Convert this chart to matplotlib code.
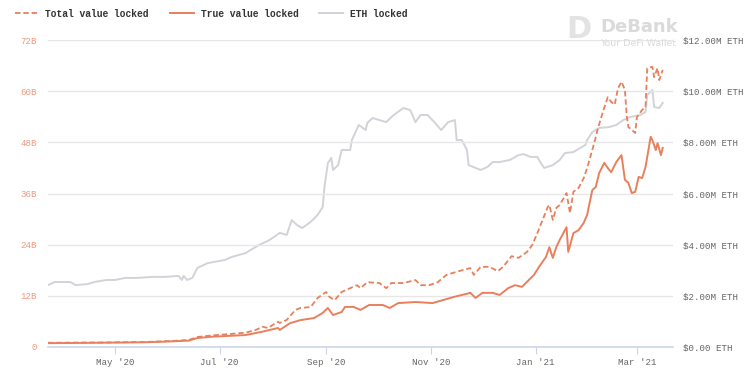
import matplotlib
matplotlib.use("Agg")
import matplotlib.pyplot as plt
import matplotlib.dates as mdates
import pandas as pd

# Total value locked (dashed), billions USD
tvl_dates = ["2020-03-23", "2020-04-22", "2020-05-18", "2020-06-02", "2020-06-13", "2020-06-18",
             "2020-06-26", "2020-07-07", "2020-07-16", "2020-07-22", "2020-07-26", "2020-07-29",
             "2020-08-04", "2020-08-05", "2020-08-09", "2020-08-14", "2020-08-17", "2020-08-23",
             "2020-08-27", "2020-09-01", "2020-09-03", "2020-09-06", "2020-09-10", "2020-09-15",
             "2020-09-19", "2020-09-21", "2020-09-25", "2020-10-02", "2020-10-06", "2020-10-09",
             "2020-10-16", "2020-10-23", "2020-10-26", "2020-10-31", "2020-11-05", "2020-11-10",
             "2020-11-14", "2020-11-20", "2020-11-24", "2020-11-26", "2020-11-30", "2020-12-05",
             "2020-12-10", "2020-12-13", "2020-12-18", "2020-12-22", "2020-12-27", "2020-12-30",
             "2021-01-02", "2021-01-08", "2021-01-09", "2021-01-11", "2021-01-13", "2021-01-15",
             "2021-01-19", "2021-01-21", "2021-01-23", "2021-01-26", "2021-01-29", "2021-01-31",
             "2021-02-03", "2021-02-05", "2021-02-06", "2021-02-09", "2021-02-12", "2021-02-14",
             "2021-02-16", "2021-02-18", "2021-02-20", "2021-02-22", "2021-02-23", "2021-02-24",
             "2021-02-26", "2021-02-28", "2021-03-01", "2021-03-04", "2021-03-06", "2021-03-07",
             "2021-03-10", "2021-03-11", "2021-03-13", "2021-03-14", "2021-03-16"]
tvl_values = [1.0, 1.05, 1.17, 1.4, 1.64, 2.35,
              2.7, 3.05, 3.35, 4.0, 4.76, 4.46,
              5.93, 5.63, 6.33, 8.68, 9.15, 9.38,
              11.5, 12.9, 11.7, 11.0, 12.9, 13.8,
              14.5, 13.8, 15.2, 15.0, 13.8, 15.0,
              15.0, 15.7, 14.5, 14.5, 15.2, 16.9,
              17.4, 18.1, 18.5, 16.9, 18.8, 18.8,
              17.8, 18.8, 21.3, 20.9, 22.3, 23.9,
              26.7, 32.8, 33.3, 29.8, 32.6, 33.3,
              36.1, 31.4, 36.4, 37.3, 39.6, 42.0,
              46.2, 49.2, 50.9, 54.9, 58.6, 57.5,
              56.8, 60.7, 62.2, 60.3, 54.4, 51.6,
              50.9, 50.2, 53.9, 55.6, 56.3, 65.4,
              65.7, 63.3, 65.4, 62.6, 65.0]

# True value locked (solid), billions USD
true_dates = ["2020-03-23", "2020-04-22", "2020-05-18", "2020-06-02", "2020-06-13", "2020-06-18",
              "2020-06-26", "2020-07-16", "2020-07-26", "2020-08-04", "2020-08-05", "2020-08-11",
              "2020-08-17", "2020-08-25", "2020-08-30", "2020-09-02", "2020-09-05", "2020-09-10",
              "2020-09-12", "2020-09-17", "2020-09-21", "2020-09-26", "2020-10-04", "2020-10-08",
              "2020-10-13", "2020-10-23", "2020-11-02", "2020-11-08", "2020-11-14", "2020-11-19",
              "2020-11-24", "2020-11-27", "2020-12-01", "2020-12-07", "2020-12-11", "2020-12-16",
              "2020-12-20", "2020-12-24", "2020-12-28", "2020-12-31", "2021-01-03", "2021-01-07",
              "2021-01-09", "2021-01-11", "2021-01-13", "2021-01-15", "2021-01-19", "2021-01-20",
              "2021-01-23", "2021-01-26", "2021-01-29", "2021-01-31", "2021-02-03", "2021-02-05",
              "2021-02-07", "2021-02-10", "2021-02-12", "2021-02-14", "2021-02-17", "2021-02-20",
              "2021-02-22", "2021-02-24", "2021-02-26", "2021-02-28", "2021-03-02", "2021-03-04",
              "2021-03-06", "2021-03-09", "2021-03-10", "2021-03-12", "2021-03-13", "2021-03-15",
              "2021-03-16"]
true_values = [0.9, 1.0, 1.1, 1.3, 1.5, 2.1,
               2.4, 2.8, 3.6, 4.46, 4.0, 5.6,
               6.3, 6.8, 8.0, 9.15, 7.5, 8.2,
               9.4, 9.4, 8.7, 9.85, 9.85, 9.15,
               10.3, 10.55, 10.3, 11.0, 11.7, 12.2,
               12.7, 11.5, 12.7, 12.7, 12.2, 13.8,
               14.5, 14.1, 15.7, 16.9, 18.8, 21.1,
               23.4, 20.9, 23.4, 25.1, 28.1, 22.3,
               26.7, 27.4, 29.1, 31.0, 36.8, 37.5,
               40.8, 43.2, 42.0, 41.0, 43.4, 45.0,
               39.2, 38.5, 36.1, 36.4, 39.9, 39.6,
               42.2, 49.3, 48.5, 46.2, 47.8, 45.0,
               46.7]

# ETH locked (grey), millions
eth_dates = ["2020-03-23", "2020-03-27", "2020-04-05", "2020-04-08", "2020-04-15", "2020-04-19",
             "2020-04-26", "2020-05-01", "2020-05-07", "2020-05-14", "2020-05-23", "2020-05-30",
             "2020-06-07", "2020-06-09", "2020-06-10", "2020-06-12", "2020-06-15", "2020-06-18",
             "2020-06-24", "2020-07-04", "2020-07-08", "2020-07-16", "2020-07-19", "2020-07-24",
             "2020-07-30", "2020-08-05", "2020-08-09", "2020-08-12", "2020-08-15", "2020-08-18",
             "2020-08-23", "2020-08-27", "2020-08-30", "2020-08-31", "2020-09-02", "2020-09-04",
             "2020-09-05", "2020-09-08", "2020-09-10", "2020-09-15", "2020-09-16", "2020-09-20",
             "2020-09-24", "2020-09-25", "2020-09-28", "2020-10-02", "2020-10-06", "2020-10-09",
             "2020-10-12", "2020-10-16", "2020-10-20", "2020-10-23", "2020-10-26", "2020-10-30",
             "2020-11-03", "2020-11-07", "2020-11-11", "2020-11-15", "2020-11-16", "2020-11-19",
             "2020-11-22", "2020-11-23", "2020-11-27", "2020-11-30", "2020-12-04", "2020-12-07",
             "2020-12-11", "2020-12-17", "2020-12-22", "2020-12-25", "2020-12-29", "2021-01-02",
             "2021-01-04", "2021-01-06", "2021-01-11", "2021-01-15", "2021-01-18", "2021-01-23",
             "2021-01-27", "2021-01-30", "2021-01-31", "2021-02-03", "2021-02-07", "2021-02-13",
             "2021-02-17", "2021-02-21", "2021-02-25", "2021-03-03", "2021-03-06", "2021-03-07",
             "2021-03-10", "2021-03-11", "2021-03-14", "2021-03-16"]
eth_values = [2.42, 2.54, 2.54, 2.42, 2.46, 2.54,
              2.62, 2.62, 2.70, 2.70, 2.74, 2.74,
              2.78, 2.62, 2.78, 2.62, 2.70, 3.09,
              3.28, 3.40, 3.52, 3.67, 3.79, 3.99,
              4.18, 4.46, 4.38, 4.96, 4.77, 4.65,
              4.89, 5.16, 5.47, 6.25, 7.19, 7.39,
              6.92, 7.11, 7.70, 7.70, 8.09, 8.68,
              8.48, 8.76, 8.95, 8.87, 8.79, 8.99,
              9.15, 9.34, 9.26, 8.79, 9.07, 9.07,
              8.79, 8.48, 8.79, 8.87, 8.09, 8.09,
              7.70, 7.11, 7.00, 6.92, 7.04, 7.23,
              7.23, 7.31, 7.50, 7.54, 7.43, 7.43,
              7.19, 7.00, 7.11, 7.31, 7.58, 7.62,
              7.78, 7.90, 8.09, 8.40, 8.56, 8.60,
              8.68, 8.87, 8.99, 9.07, 9.19, 9.85,
              10.05, 9.38, 9.34, 9.54]

left_ticks = [0, 12, 24, 36, 48, 60, 72]
left_labels = ["0", "12B", "24B", "36B", "48B", "60B", "72B"]
right_ticks = [0, 2, 4, 6, 8, 10, 12]
right_labels = ["$0.00 ETH", "$2.00M ETH", "$4.00M ETH", "$6.00M ETH",
                "$8.00M ETH", "$10.00M ETH", "$12.00M ETH"]

orange = "#e8805c"
grey_line = "#d2d3d9"
mono = "Liberation Mono"

fig = plt.figure(figsize=(7.54, 3.86), dpi=100)
ax = fig.add_axes([48 / 754, 1 - 347 / 386, 625 / 754, 307 / 386])
ax2 = ax.twinx()

ax2.plot(pd.to_datetime(eth_dates), eth_values, color=grey_line, lw=1.4, label="ETH locked")
ax.plot(pd.to_datetime(tvl_dates), tvl_values, color=orange, lw=1.3, ls=(0, (3, 1.6)),
        label="Total value locked")
ax.plot(pd.to_datetime(true_dates), true_values, color=orange, lw=1.4, label="True value locked")

ax.set_zorder(ax2.get_zorder() + 1)
ax.patch.set_visible(False)

ax.set_xlim(pd.Timestamp("2020-03-23"), pd.Timestamp("2021-03-22"))
ax.set_ylim(0, 72)
ax2.set_ylim(0, 12)

ax.set_yticks(left_ticks)
ax.set_yticklabels(left_labels, fontsize=6.6, family=mono, color="#eb9a80")
ax2.set_yticks(right_ticks)
ax2.set_yticklabels(right_labels, fontsize=6.6, family=mono, color="#666666")
ax.tick_params(axis="y", length=0, pad=8)
ax2.tick_params(axis="y", length=0, pad=7)

ax.xaxis.set_major_locator(mdates.MonthLocator(bymonth=[1, 3, 5, 7, 9, 11]))
ax.xaxis.set_major_formatter(mdates.DateFormatter("%b '%y"))
ax.tick_params(axis="x", length=5, color="#ccd6eb", labelsize=6.6, labelcolor="#666666", pad=3)
for lbl in ax.get_xticklabels():
    lbl.set_family(mono)

ax.grid(axis="y", color="#e6e6e6", lw=1)
ax.set_axisbelow(True)
for a in (ax, ax2):
    for s in ["top", "left", "right"]:
        a.spines[s].set_visible(False)
ax.spines["bottom"].set_color("#ccd6eb")
ax.spines["bottom"].set_linewidth(1.2)
ax2.spines["bottom"].set_visible(False)

h1, l1 = ax.get_legend_handles_labels()
h2, l2 = ax2.get_legend_handles_labels()
fig.legend(h1 + h2, l1 + l2, loc="upper left", bbox_to_anchor=(0.008, 1.0), ncol=3,
           frameon=False, handlelength=2.5, columnspacing=2.2, handletextpad=0.7,
           prop={"family": mono, "weight": "bold", "size": 6.9}, labelcolor="#333333")

# DeBank watermark
fig.text(566 / 754, 1 - 30 / 386, "D", fontsize=22, fontweight="bold", color="#e3e3e3",
         va="center", ha="left", family="DejaVu Sans")
fig.text(600 / 754, 1 - 27 / 386, "DeBank", fontsize=13, fontweight="bold", color="#dadada",
         va="center", ha="left", family="DejaVu Sans")
fig.text(600 / 754, 1 - 43 / 386, "Your DeFi Wallet", fontsize=6.8, color="#dadada",
         va="center", ha="left", family="DejaVu Sans")

plt.savefig("out.png", dpi=100)
